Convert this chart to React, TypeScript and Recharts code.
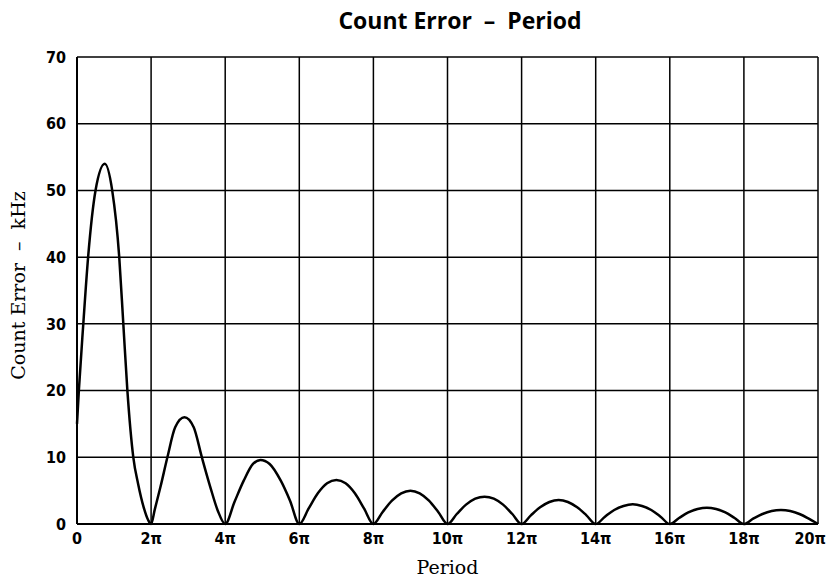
import { LineChart, Line, XAxis, YAxis, CartesianGrid, Label } from "recharts";

// x positions are in units of π (0 … 20π), values in kHz
const periodPi = [
  0, 0.05, 0.17, 0.3, 0.5, 0.75, 0.95, 1.14, 1.25, 1.36, 1.52, 1.65, 1.8, 1.92, 2,
  2.1, 2.25, 2.44, 2.65, 2.9, 3.15, 3.37, 3.6, 3.8, 4,
  4.25, 4.5, 4.75, 4.95, 5.2, 5.5, 5.75, 6,
  6.25, 6.5, 6.75, 7, 7.25, 7.5, 7.75, 8,
  8.25, 8.5, 8.75, 9, 9.25, 9.5, 9.75, 10,
  10.25, 10.5, 10.75, 11, 11.25, 11.5, 11.75, 12,
  12.25, 12.5, 12.75, 13, 13.25, 13.5, 13.75, 14,
  14.25, 14.5, 14.75, 15, 15.25, 15.5, 15.75, 16,
  16.25, 16.5, 16.75, 17, 17.25, 17.5, 17.75, 18,
  18.25, 18.5, 18.75, 19, 19.25, 19.5, 19.75, 20,
];

const countError = [
  15, 20, 30, 40, 50, 54, 50, 40, 30, 20, 10, 6, 2.5, 0.6, 0,
  2.2, 5.5, 10, 14.5, 16, 14.5, 10, 5.5, 2, 0,
  3.3, 6.5, 9, 9.6, 9, 6.5, 3.5, 0,
  2.3, 4.6, 6.1, 6.6, 6.1, 4.6, 2.3, 0,
  1.8, 3.5, 4.6, 5, 4.6, 3.5, 1.8, 0,
  1.5, 2.9, 3.8, 4.1, 3.8, 2.9, 1.5, 0,
  1.3, 2.5, 3.3, 3.6, 3.3, 2.5, 1.3, 0,
  1.1, 2.1, 2.7, 2.95, 2.7, 2.1, 1.1, 0,
  0.9, 1.75, 2.25, 2.45, 2.25, 1.75, 0.9, 0,
  0.8, 1.5, 1.95, 2.1, 1.95, 1.5, 0.8, 0,
];

const xTicks = [0, 2, 4, 6, 8, 10, 12, 14, 16, 18, 20];
const yTicks = [0, 10, 20, 30, 40, 50, 60, 70];

const data = periodPi.map((x, i) => ({ x, err: countError[i] }));

const tickFont = {
  fontFamily: "'DejaVu Sans Condensed', 'Liberation Sans Narrow', 'DejaVu Sans', sans-serif",
  fontSize: 16,
  fontWeight: 700,
  fill: "#000",
};

const serif = "'DejaVu Serif', 'Liberation Serif', serif";

const piLabel = (v: number) => (v === 0 ? "0" : `${v}π`);

function XTick({ x, y, payload }: any) {
  const last = payload.value === xTicks[xTicks.length - 1];
  return (
    <text
      x={last ? x + 8 : x}
      y={y + 12}
      textAnchor={last ? "end" : "middle"}
      style={tickFont}
    >
      {piLabel(payload.value)}
    </text>
  );
}

export default function App() {
  return (
    <div style={{ position: "absolute", left: 0, top: 0, width: 828, height: 582, background: "#fff" }}>
      <div
        style={{
          position: "absolute",
          left: 92,
          width: 736,
          top: 6,
          textAlign: "center",
          fontFamily: "'Open Sans', sans-serif",
          fontWeight: 700,
          fontSize: 23,
          lineHeight: "28px",
          color: "#000",
        }}
      >
        Count Error&nbsp; –&nbsp; Period
      </div>
      <LineChart
        width={828}
        height={582}
        data={data}
        margin={{ top: 57, right: 10, bottom: 6, left: 0 }}
      >
        <CartesianGrid stroke="#000" strokeWidth={1.5} />
        <XAxis
          type="number"
          dataKey="x"
          domain={[0, 20]}
          ticks={xTicks}
          tick={<XTick />}
          tickLine={false}
          axisLine={{ stroke: "#000", strokeWidth: 2 }}
          height={52}
          interval={0}
        >
          <Label
            value="Period"
            position="insideBottom"
            offset={2}
            style={{ fontFamily: serif, fontSize: 19, fill: "#000" }}
          />
        </XAxis>
        <YAxis
          type="number"
          domain={[0, 70]}
          ticks={yTicks}
          tick={tickFont}
          tickLine={false}
          axisLine={{ stroke: "#000", strokeWidth: 2 }}
          tickMargin={5}
          width={77}
          interval={0}
        >
          <Label
            content={({ viewBox }: any) => {
              const cy = viewBox.y + viewBox.height / 2 - 5;
              return (
                <text
                  x={25}
                  y={cy}
                  transform={`rotate(-90 25 ${cy})`}
                  textAnchor="middle"
                  style={{ fontFamily: serif, fontSize: 19, fill: "#000" }}
                >
                  Count Error&nbsp; –&nbsp; kHz
                </text>
              );
            }}
          />
        </YAxis>
        <Line
          type="monotone"
          dataKey="err"
          stroke="#000"
          strokeWidth={2.5}
          dot={false}
          isAnimationActive={false}
        />
      </LineChart>
    </div>
  );
}
